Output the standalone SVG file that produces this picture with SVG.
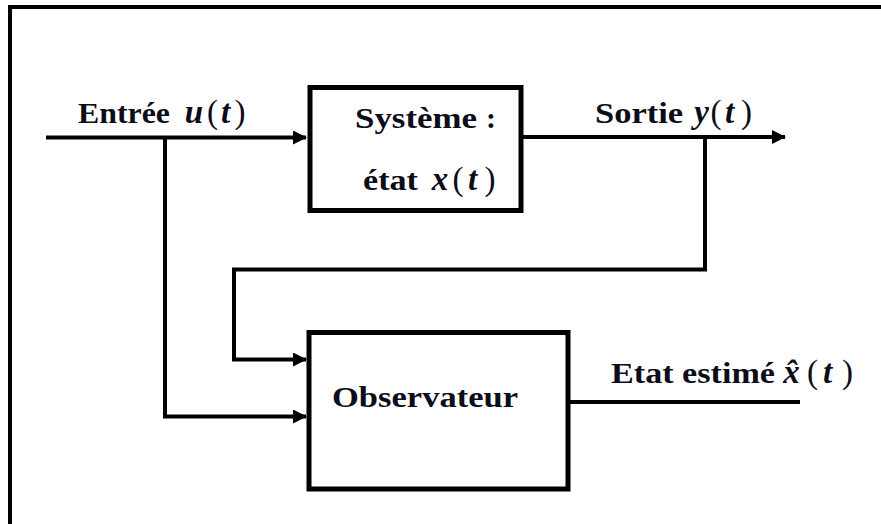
<svg xmlns="http://www.w3.org/2000/svg" width="881" height="524" viewBox="0 0 881 524">
<defs>
<style>
.ln{fill:none;stroke:#000;stroke-width:4;stroke-linejoin:miter;stroke-linecap:butt}
.box{fill:#fff;stroke:#000;stroke-width:5}
text{font-family:"Liberation Serif","Times New Roman",serif;font-weight:bold;font-size:30px;fill:#0d0d1a}
.m{font-style:italic;font-size:33px;text-anchor:middle}
.p{font-style:normal;font-weight:normal;font-size:33px;text-anchor:middle}
</style>
<marker id="ah" viewBox="0 0 14 14" refX="13" refY="7" markerWidth="14" markerHeight="14" markerUnits="userSpaceOnUse" orient="auto">
<path d="M0,0 L14,7 L0,14 Z" fill="#000"/>
</marker>
</defs>
<rect width="881" height="524" fill="#fff"/>
<path d="M10,530 V7 H890" fill="none" stroke="#000" stroke-width="4"/>
<g id="connectors">
<path class="ln" d="M46,137.5 H306" marker-end="url(#ah)"/>
<path class="ln" d="M521,137 H785" marker-end="url(#ah)"/>
<path class="ln" d="M165,137.5 V416.5 H306" marker-end="url(#ah)"/>
<path class="ln" d="M705,137 V269.5 H234 V359.5 H306" marker-end="url(#ah)"/>
<path class="ln" d="M568,402 H800"/>
</g>
<g id="input-label">
<text x="78" y="123" textLength="92" lengthAdjust="spacingAndGlyphs">Entrée</text>
<text class="m" x="194" y="123">u</text>
<text class="p" x="212.5" y="123">(</text>
<text class="m" x="225.5" y="123">t</text>
<text class="p" x="240" y="123">)</text>
</g>
<g id="output-label">
<text x="595" y="123" textLength="88" lengthAdjust="spacingAndGlyphs">Sortie</text>
<text class="m" x="701.5" y="123">y</text>
<text class="p" x="716" y="123">(</text>
<text class="m" x="729.5" y="123">t</text>
<text class="p" x="746.5" y="123">)</text>
</g>
<g id="systeme">
<rect class="box" x="310" y="87.5" width="211" height="123"/>
<text x="355" y="128" textLength="122" lengthAdjust="spacingAndGlyphs">Système</text>
<text x="486" y="128">:</text>
<text x="363" y="190" textLength="55" lengthAdjust="spacingAndGlyphs">état</text>
<text class="m" x="440" y="190">x</text>
<text class="p" x="458" y="190">(</text>
<text class="m" x="472.5" y="190">t</text>
<text class="p" x="490" y="190">)</text>
</g>
<g id="observateur">
<rect class="box" x="309" y="332.5" width="259" height="156.5"/>
<text x="332" y="407" textLength="186" lengthAdjust="spacingAndGlyphs">Observateur</text>
</g>
<g id="estimate-label">
<text x="611" y="383" textLength="164" lengthAdjust="spacingAndGlyphs">Etat estimé</text>
<text class="m" x="791.5" y="383">x̂</text>
<text class="p" x="812.5" y="383">(</text>
<text class="m" x="827.5" y="383">t</text>
<text class="p" x="847.5" y="383">)</text>
</g>
</svg>
